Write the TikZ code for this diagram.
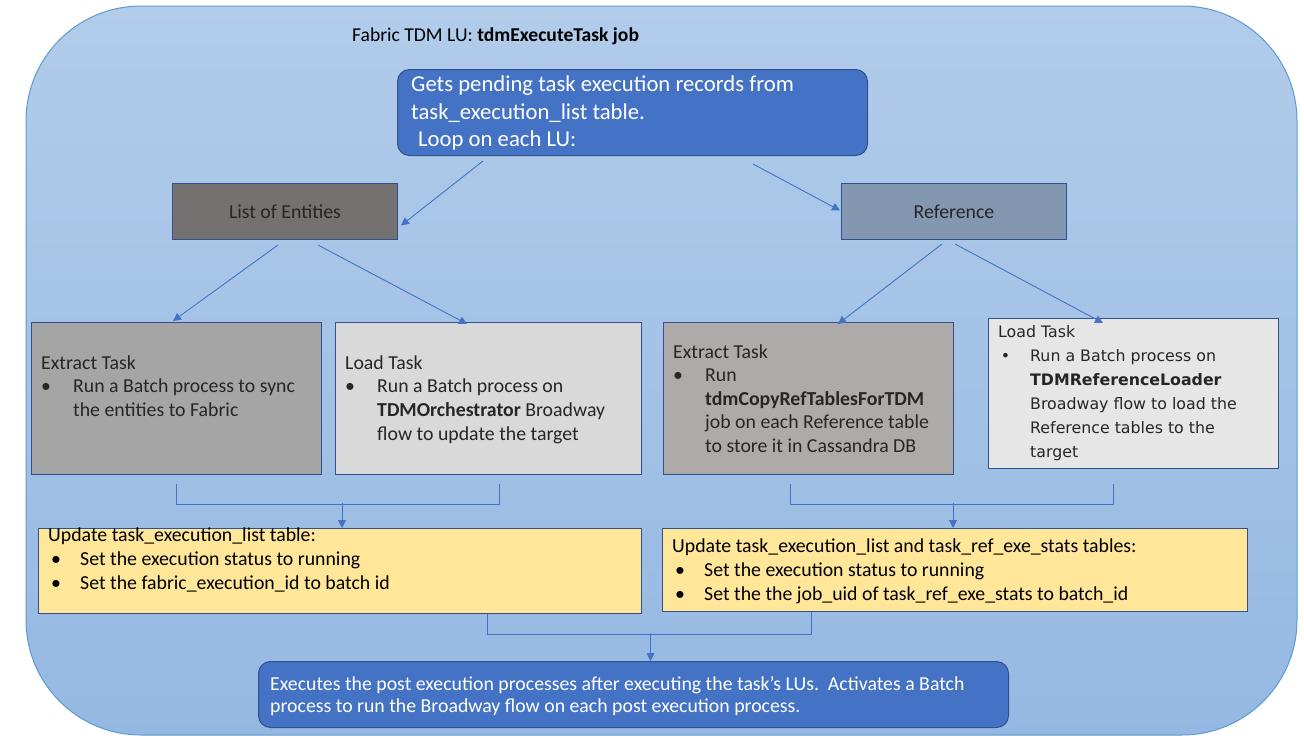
\documentclass[tikz,border=0pt]{standalone}
\usepackage{fontspec}
\setmainfont{Carlito}
\newfontfamily\wideface{DejaVu Sans}
\usetikzlibrary{calc,arrows.meta}

\definecolor{frameTop}{HTML}{B2CCEA}
\definecolor{frameBot}{HTML}{95B8E2}
\definecolor{frameLine}{HTML}{5B9BD5}
\definecolor{accent}{HTML}{4472C4}
\definecolor{edge}{HTML}{2F528F}
\definecolor{ink}{HTML}{262626}
\definecolor{entFill}{HTML}{767171}
\definecolor{refFill}{HTML}{8497B0}
\definecolor{extFill}{HTML}{A5A5A5}
\definecolor{ldFill}{HTML}{D9D9D9}
\definecolor{exrFill}{HTML}{AEAAAA}
\definecolor{ldrFill}{HTML}{E7E6E6}
\definecolor{updFill}{HTML}{FFE699}

\newcommand{\bul}[1]{\makebox[32pt][l]{\textbullet}#1}
\newcommand{\ybul}[1]{\makebox[32pt][l]{\hspace*{3pt}\textbullet}#1}
\newcommand{\indt}{\hspace*{32pt}}

\tikzset{
  box/.style={draw=edge, line width=1pt, anchor=north west, inner sep=0pt},
  txt/.style={anchor=base west, align=left, inner sep=0pt, text=ink,
    font=\fontsize{19.8}{23.6}\selectfont},
  conn/.style={draw=accent, line width=0.9pt},
  arr/.style={conn, -{Triangle[length=8pt,width=8pt]}}
}

\begin{document}
\begin{tikzpicture}[x=1pt, y=-1pt]
  \useasboundingbox (0,0) rectangle (1304,737);

  % 外枠
  \draw[rounded corners=115pt, top color=frameTop, bottom color=frameBot,
    draw=frameLine, line width=1pt] (26,6) rectangle (1297,735);
  \node[txt, font=\fontsize{19.6}{22}\selectfont, text=black] (title) at (352,41)
    {Fabric TDM LU: \textbf{tdmExecuteTask job}};

  % 開始 (ノードの base は最終行)
  \node[box, fill=accent, rounded corners=12pt, minimum width=470pt, minimum height=86pt] (top) at (397,69) {};
  \node[txt, text=white, font=\fontsize{22.7}{27.5}\selectfont] (toptxt) at (411,146.5)
    {Gets pending task execution records from\\task\_execution\_list table.\\\hspace*{7pt}Loop on each LU:};

  % 分岐
  \node[box, fill=entFill, minimum width=225pt, minimum height=56pt] (ent) at (172,183) {};
  \node[text=ink, font=\fontsize{19.8}{22}\selectfont] (enttxt) at (ent.center) {List of Entities};
  \node[box, fill=refFill, minimum width=225pt, minimum height=56pt] (ref) at (841,183) {};
  \node[text=ink, font=\fontsize{19.8}{22}\selectfont] (reftxt) at (ref.center) {Reference};

  % タスク
  \node[box, fill=extFill, minimum width=290pt, minimum height=152pt] (exl) at (31,322) {};
  \node[txt] (exltxt) at (41,416.5)
    {Extract Task\\\bul{Run a Batch process to sync}\\\indt the entities to Fabric};
  \node[box, fill=ldFill, minimum width=306pt, minimum height=152pt] (ldl) at (335,322) {};
  \node[txt] (ldltxt) at (345,440)
    {Load Task\\\bul{Run a Batch process on}\\\indt\textbf{TDMOrchestrator} Broadway\\\indt flow to update the target};
  \node[box, fill=exrFill, minimum width=290pt, minimum height=152pt] (exr) at (663,322) {};
  \node[txt] (exrtxt) at (673,452.5)
    {Extract Task\\\bul{Run}\\\indt\textbf{tdmCopyRefTablesForTDM}\\\indt job on each Reference table\\\indt to store it in Cassandra DB};
  \node[box, fill=ldrFill, minimum width=290pt, minimum height=150pt] (ldr) at (988,318) {};
  \node[txt, font=\wideface\fontsize{15.8}{24}\selectfont] (ldrtxt) at (998,457)
    {Load Task\\\makebox[32pt][l]{\,\textbullet}Run a Batch process on\\\indt\textbf{TDMReferenceLoader}\\\indt Broadway flow to load the\\\indt Reference tables to the\\\indt target};

  % 更新
  \node[box, fill=updFill, minimum width=603pt, minimum height=85pt] (yl) at (38,528) {};
  \node[txt, text=black] (yltxt) at (48,589)
    {Update task\_execution\_list table:\\\ybul{Set the execution status to running}\\\ybul{Set the fabric\_execution\_id to batch id}};
  \node[box, fill=updFill, minimum width=585pt, minimum height=83pt] (yr) at (662,528) {};
  \node[txt, text=black] (yrtxt) at (672,600)
    {Update task\_execution\_list and task\_ref\_exe\_stats tables:\\\ybul{Set the execution status to running}\\\ybul{Set the the job\_uid of task\_ref\_exe\_stats to batch\_id}};

  % 終了
  \node[box, fill=accent, rounded corners=12pt, minimum width=750pt, minimum height=66pt] (fin) at (258,661) {};
  \node[txt, text=white, font=\fontsize{19.8}{22}\selectfont] (fintxt) at (270,712)
    {Executes the post execution processes after executing the task’s LUs.\ \ Activates a Batch\\process to run the Broadway flow on each post execution process.};

  % 矢印
  \draw[arr] ($(top.south west)+(86,5)$) -- ($(ent.east)+(3,14)$);
  \draw[arr] ($(top.south west)+(356,8)$) -- ($(ref.west)+(-1,-1)$);
  \draw[arr] ($(ent.south west)+(106,5)$) -- ($(exl.north west)+(142,-1)$);
  \draw[arr] ($(ent.south west)+(146,5)$) -- ($(ldl.north west)+(132,2)$);
  \draw[arr] ($(ref.south west)+(101,4)$) -- ($(exr.north west)+(175,2)$);
  \draw[arr] ($(ref.south west)+(114,4)$) -- ($(ldr.north west)+(115,5)$);

  % 合流
  \draw[conn] ($(exl.south west)+(145,9)$) -- ++(0,20) -| ($(ldl.south west)+(164,9)$);
  \draw[arr] ($(yl.north)+(2,-25)$) -- ($(yl.north)+(2,0)$);
  \draw[conn] ($(exr.south west)+(127,9)$) -- ++(0,20) -| ($(ldr.south west)+(125,15)$);
  \draw[arr] ($(yr.north)+(-2,-25)$) -- ($(yr.north)+(-2,0)$);
  \draw[conn] ($(yl.south west)+(449,0)$) -- ++(0,20) -| ($(yr.south west)+(149,0)$);
  \draw[arr] ($(fin.north)+(17,-28)$) -- ($(fin.north)+(17,0)$);
\end{tikzpicture}
\end{document}
